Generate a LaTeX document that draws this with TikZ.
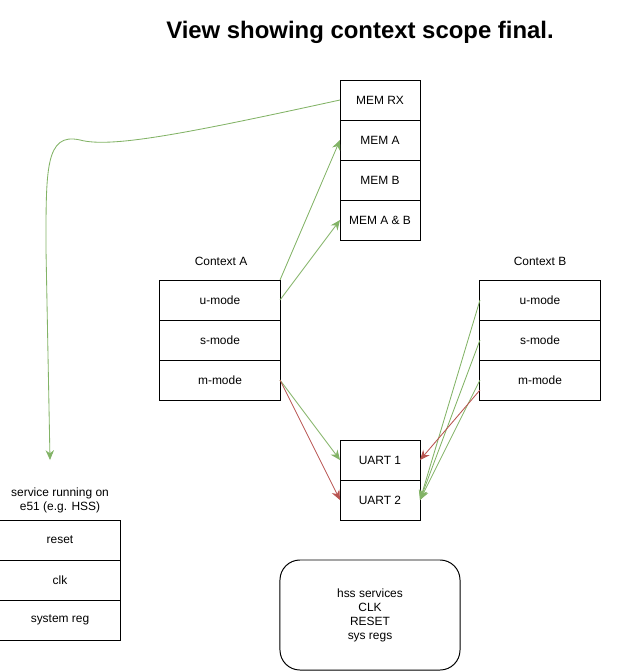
\documentclass[tikz,border=0pt]{standalone}
\usepackage{fontspec}
\setmainfont{Liberation Sans}
\usetikzlibrary{arrows.meta, positioning}

\definecolor{linkgreen}{HTML}{82B366}
\definecolor{linkred}{HTML}{B85450}

\tikzset{
  cell/.style={draw, line width=0.7pt, outer sep=0pt, minimum width=3cm, minimum height=1cm, inner sep=0pt, font=\fontsize{8.5}{10}\selectfont},
  memcell/.style={cell, minimum width=2cm},
  grlink/.style={draw=linkgreen, line width=0.6pt, -{Stealth[length=7pt, width=6pt]}},
  rdlink/.style={draw=linkred, line width=0.6pt, -{Stealth[length=7pt, width=6pt]}},
  caption/.style={font=\fontsize{8.5}{10}\selectfont, align=center}
}

\begin{document}
\begin{tikzpicture}[x=0.025cm, y=-0.025cm]
\useasboundingbox (0,0) rectangle (631,671);

% Title
\node[font=\bfseries\fontsize{17}{19}\selectfont] (title) at (360,32) {View showing context scope final.};

% Memory stack
\node[memcell] (memrx) at (380,100) {MEM RX};
\node[memcell, below=0pt of memrx] (mema) {MEM A};
\node[memcell, below=0pt of mema] (memb) {MEM B};
\node[memcell, below=0pt of memb] (memab) {MEM A \& B};

% Context A
\node[caption] (ctxa) at (221,261) {Context A};
\node[cell] (au) at (220,300) {u-mode};
\node[cell, below=0pt of au] (as) {s-mode};
\node[cell, below=0pt of as] (am) {m-mode};

% Context B
\node[caption] (ctxb) at (540,261) {Context B};
\node[cell] (bu) at (540,300) {u-mode};
\node[cell, below=0pt of bu] (bs) {s-mode};
\node[cell, below=0pt of bs] (bm) {m-mode};

% UART stack
\node[memcell] (uart1) at (380,460) {UART 1};
\node[memcell, below=0pt of uart1] (uart2) {UART 2};

% Service on e51
\node[caption] (svc) at (60,500) {service running on\\e51 (e.g. HSS)};
\node[cell] (reset) at (60,540) {reset};
\node[cell, below=0pt of reset] (clk) {clk};
\node[cell, below=0pt of clk] (sysreg) {system reg};
\coordinate (svcin) at (50,460);

% HSS services
\node[draw, line width=0.7pt, rounded corners=0.5cm, minimum width=4.5cm, minimum height=2.75cm, font=\fontsize{8.5}{10}\selectfont, align=center] (hss) at (370,615) {hss services\\CLK\\RESET\\sys regs};

% Links
\draw[grlink] (memrx.west) .. controls (180,135) and (110,148) .. (80,140) .. controls (45,132) and (46,170) .. (46,250) -- (svcin);
\draw[grlink] (au.north east) -- (mema.west);
\draw[grlink] (au.east) -- (memab.west);
\draw[grlink] (am.east) -- (uart1.west);
\draw[rdlink] (am.east) -- (uart2.west);
\draw[grlink] (bu.west) -- (uart2.east);
\draw[grlink] (bs.west) -- (uart2.east);
\draw[grlink] (bm.west) -- (uart2.east);
\draw[rdlink] ([yshift=-0.25cm]bm.west) -- (uart1.east);
\end{tikzpicture}
\end{document}
